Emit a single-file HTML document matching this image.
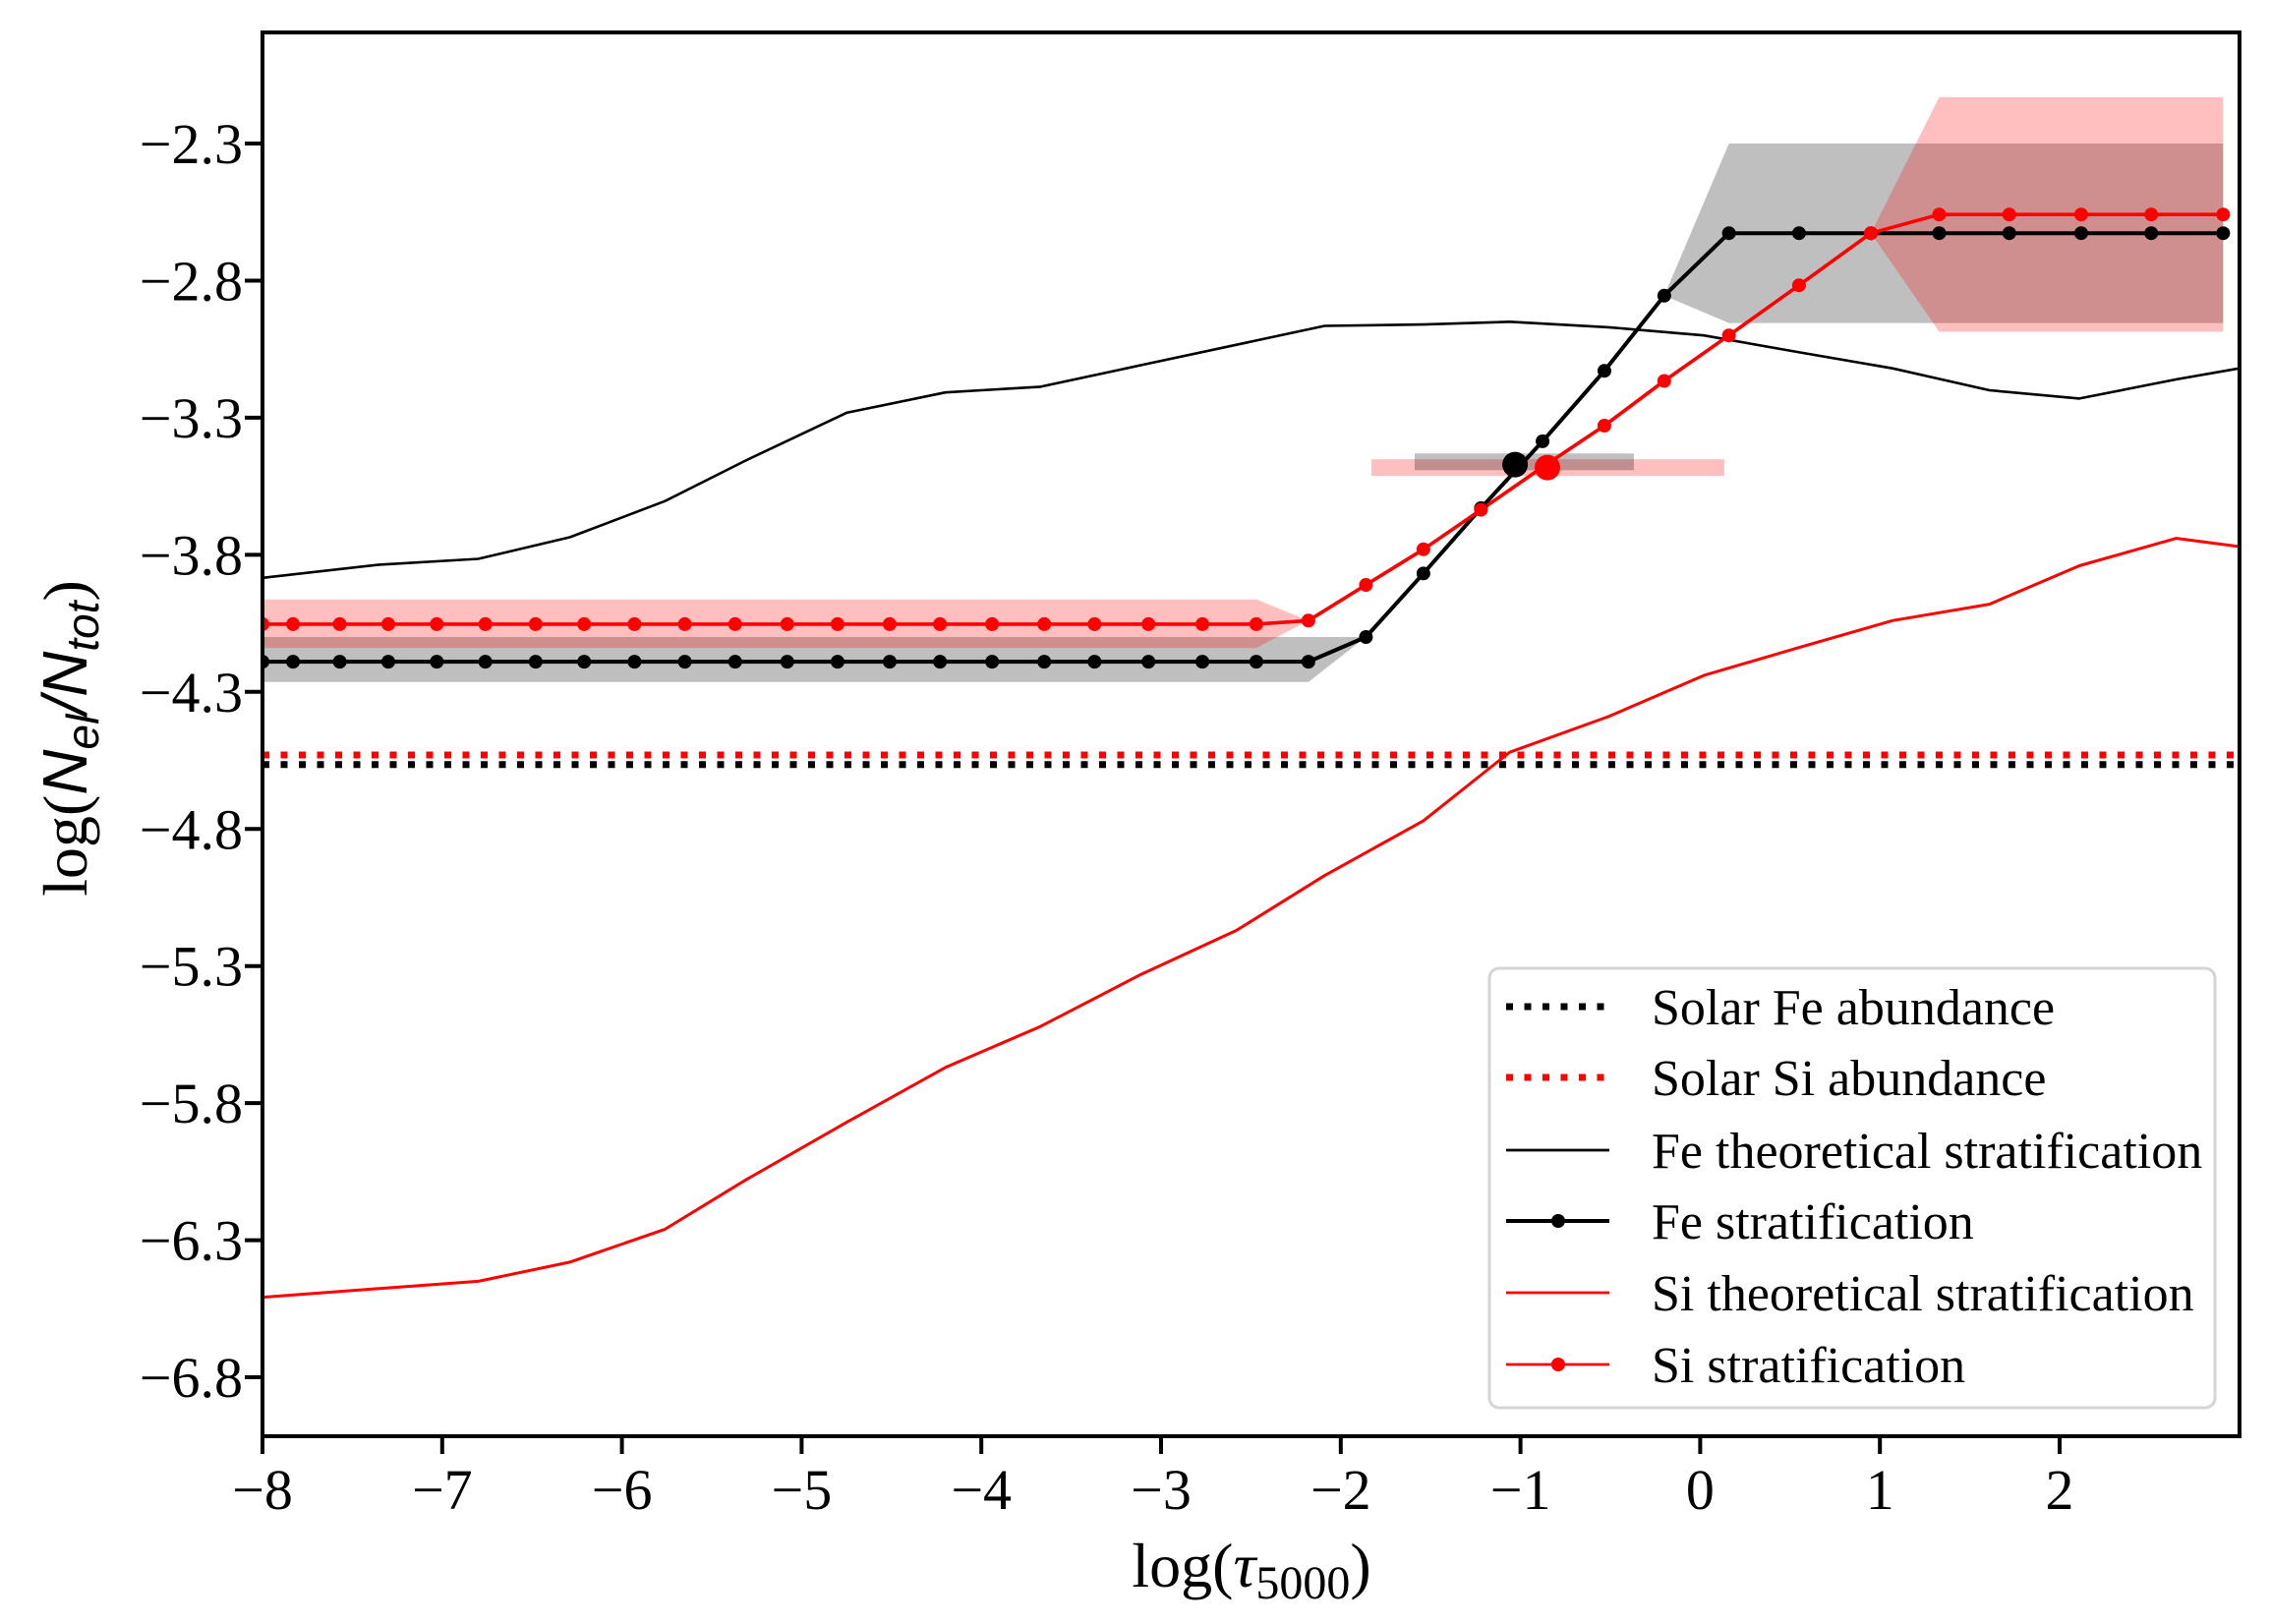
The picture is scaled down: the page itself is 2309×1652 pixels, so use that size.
<!DOCTYPE html>
<html><head><meta charset="utf-8"><style>
html,body{margin:0;padding:0;background:#fff}
svg{display:block;font-family:"Liberation Serif",serif}
</style></head><body>
<svg id="chart" width="2309" height="1652" viewBox="0 0 2309 1652" xmlns="http://www.w3.org/2000/svg">
<g id="plot"></g>
</svg>
<script>
const xTickVals=[-8,-7,-6,-5,-4,-3,-2,-1,0,1,2];
const yTickVals=[-2.3,-2.8,-3.3,-3.8,-4.3,-4.8,-5.3,-5.8,-6.3,-6.8];
const theoX=[-8,-7.35,-6.8,-6.29,-5.76,-5.31,-4.75,-4.2,-3.67,-3.11,-2.58,-2.09,-1.54,-1.06,-0.51,0.02,0.54,1.07,1.61,2.11,2.65,3.0];
const feTheo=[-3.884,-3.836,-3.815,-3.736,-3.604,-3.456,-3.282,-3.208,-3.187,-3.108,-3.034,-2.965,-2.96,-2.95,-2.97,-3.0,-3.06,-3.12,-3.2,-3.23,-3.16,-3.12];
const siTheo=[-6.508,-6.476,-6.45,-6.38,-6.26,-6.08,-5.87,-5.67,-5.52,-5.33,-5.17,-4.97,-4.77,-4.52,-4.39,-4.24,-4.14,-4.04,-3.98,-3.84,-3.74,-3.77];
const stratX=[-8,-7.83,-7.57,-7.30,-7.03,-6.76,-6.48,-6.21,-5.93,-5.65,-5.37,-5.08,-4.80,-4.51,-4.23,-3.94,-3.65,-3.37,-3.07,-2.77,-2.47,-2.18,-1.86,-1.54,-1.22,-0.877,-0.533,-0.20,0.16,0.55,0.95,1.33,1.72,2.12,2.51,2.91];
const feStrat=[-4.19,-4.19,-4.19,-4.19,-4.19,-4.19,-4.19,-4.19,-4.19,-4.19,-4.19,-4.19,-4.19,-4.19,-4.19,-4.19,-4.19,-4.19,-4.19,-4.19,-4.19,-4.19,-4.10,-3.868,-3.63,-3.386,-3.129,-2.855,-2.627,-2.627,-2.627,-2.627,-2.627,-2.627,-2.627,-2.627];
const feLow=[-4.264,-4.264,-4.264,-4.264,-4.264,-4.264,-4.264,-4.264,-4.264,-4.264,-4.264,-4.264,-4.264,-4.264,-4.264,-4.264,-4.264,-4.264,-4.264,-4.264,-4.264,-4.264,-4.10,-3.868,-3.63,-3.386,-3.129,-2.855,-2.955,-2.955,-2.955,-2.955,-2.955,-2.955,-2.955,-2.955];
const feHigh=[-4.10,-4.10,-4.10,-4.10,-4.10,-4.10,-4.10,-4.10,-4.10,-4.10,-4.10,-4.10,-4.10,-4.10,-4.10,-4.10,-4.10,-4.10,-4.10,-4.10,-4.10,-4.10,-4.10,-3.868,-3.63,-3.386,-3.129,-2.855,-2.3,-2.3,-2.3,-2.3,-2.3,-2.3,-2.3,-2.3];
const siStrat=[-4.053,-4.053,-4.053,-4.053,-4.053,-4.053,-4.053,-4.053,-4.053,-4.053,-4.053,-4.053,-4.053,-4.053,-4.053,-4.053,-4.053,-4.053,-4.053,-4.053,-4.053,-4.04,-3.91,-3.78,-3.636,-3.48,-3.329,-3.166,-3.0,-2.817,-2.627,-2.559,-2.559,-2.559,-2.559,-2.559];
const siLow=[-4.14,-4.14,-4.14,-4.14,-4.14,-4.14,-4.14,-4.14,-4.14,-4.14,-4.14,-4.14,-4.14,-4.14,-4.14,-4.14,-4.14,-4.14,-4.14,-4.14,-4.14,-4.04,-3.91,-3.78,-3.636,-3.48,-3.329,-3.166,-3.0,-2.817,-2.627,-2.986,-2.986,-2.986,-2.986,-2.986];
const siHigh=[-3.963,-3.963,-3.963,-3.963,-3.963,-3.963,-3.963,-3.963,-3.963,-3.963,-3.963,-3.963,-3.963,-3.963,-3.963,-3.963,-3.963,-3.963,-3.963,-3.963,-3.963,-4.04,-3.91,-3.78,-3.636,-3.48,-3.329,-3.166,-3.0,-2.817,-2.627,-2.131,-2.131,-2.131,-2.131,-2.131];
const solarFe=-4.565, solarSi=-4.53;
const feMean=[-1.03,-3.471], siMean=[-0.85,-3.482];
const feErrX=[-1.589,-0.369], siErrX=[-1.829,0.134];
const legendLabels=["Solar Fe abundance","Solar Si abundance","Fe theoretical stratification","Fe stratification","Si theoretical stratification","Si stratification"];

const L=267,R=2278,T=33,B=1461;
const X=v=>L+(v+8)*182.8;
const Y=v=>146+(-2.3-v)*278.9;
const NS="http://www.w3.org/2000/svg";
const svg=document.getElementById('chart');
const plot=document.getElementById('plot');
function mk(tag,attrs,parent){const e=document.createElementNS(NS,tag);for(const k in attrs)e.setAttribute(k,attrs[k]);(parent||plot).appendChild(e);return e;}
const pts=(xs,ys)=>xs.map((x,i)=>X(x).toFixed(1)+","+Y(ys[i]).toFixed(1)).join(" ");

const defs=mk('defs',{},svg);
const cp=mk('clipPath',{id:'clip'},defs);
mk('rect',{x:L,y:T,width:R-L,height:B-T},cp);
plot.setAttribute('clip-path','url(#clip)');

function band(lo,hi,color,name){
  const up=stratX.map((x,i)=>X(x)+","+Y(hi[i]));
  const dn=stratX.map((x,i)=>X(x)+","+Y(lo[i])).reverse();
  const p=mk('polygon',{points:up.concat(dn).join(" "),fill:color,'fill-opacity':0.25,stroke:'none'});
  
  
}
band(feLow,feHigh,'#000','fe-uncertainty-band');
band(siLow,siHigh,'#f00','si-uncertainty-band');

function errbar(xr,yc,color,name){
  const r=mk('rect',{x:X(xr[0]),y:Y(yc)-8.5,width:X(xr[1])-X(xr[0]),height:17,fill:color,'fill-opacity':0.25});
  
  
}
errbar(siErrX,siMean[1],'#f00','si-mean-errorbar');
errbar(feErrX,feMean[1]+0.01,'#000','fe-mean-errorbar');

function hline(v,color,name){
  const l=mk('line',{x1:L,x2:R,y1:Y(v),y2:Y(v),stroke:color,'stroke-width':7,'stroke-dasharray':'7,11.5'});
  
  
}
hline(solarFe,'#000','solar-fe-line');
hline(solarSi,'#f00','solar-si-line');

function line(xs,ys,color,w,name){
  const l=mk('polyline',{points:pts(xs,ys),fill:'none',stroke:color,'stroke-width':w,'stroke-linejoin':'round'});
  
  
}
line(theoX,feTheo,'#000',2.6,'fe-theoretical-line');
line(theoX,siTheo,'#f00',3,'si-theoretical-line');
line(stratX,feStrat,'#000',4,'fe-stratification-line');
line(stratX,siStrat,'#f00',3.6,'si-stratification-line');
function dots(ys,color,name){
  stratX.forEach((x,i)=>{
    const c=mk('circle',{cx:X(x),cy:Y(ys[i]),r:7,fill:color});
    
    
  });
}
dots(feStrat,'#000','fe-point');
dots(siStrat,'#f00','si-point');
let c=mk('circle',{cx:X(feMean[0]),cy:Y(feMean[1]),r:13,fill:'#000'});


c=mk('circle',{cx:X(siMean[0]),cy:Y(siMean[1]),r:13,fill:'#f00'});



const ax=mk('g',{},svg);


mk('rect',{x:L,y:T,width:R-L,height:B-T,fill:'none',stroke:'#000','stroke-width':4},ax);
xTickVals.forEach(v=>{
  const t=mk('line',{x1:X(v),x2:X(v),y1:B,y2:B+18,stroke:'#000','stroke-width':4},ax);
  
  
  const tx=mk('text',{x:X(v),y:1535,'font-size':58,'text-anchor':'middle'},ax);
  tx.textContent=(v<0?'\u2212':'')+Math.abs(v);
  
  
});
yTickVals.forEach(v=>{
  const t=mk('line',{x1:L-18,x2:L,y1:Y(v),y2:Y(v),stroke:'#000','stroke-width':4},ax);
  
  
  const tx=mk('text',{x:247,y:Y(v)+20,'font-size':58,'text-anchor':'end'},ax);
  tx.textContent='\u2212'+Math.abs(v).toFixed(1);
  
  
});

const lg=mk('g',{},svg);


mk('rect',{x:1515,y:985,width:738,height:447,rx:10,fill:'#fff','fill-opacity':0.8,stroke:'#d4d4d4','stroke-width':3},lg);
const ly=[1024,1096,1170,1242,1315,1388];
legendLabels.forEach((lab,i)=>{
  const col=(i===0||i===2||i===3)?'#000':'#f00';
  const attrs={x1:1532,x2:1637,y1:ly[i],y2:ly[i],stroke:col};
  if(i<2){attrs['stroke-width']=7;attrs['stroke-dasharray']='7,11.5';}
  else if(i===3){attrs['stroke-width']=4;}
  else attrs['stroke-width']=2.8;
  const l=mk('line',attrs,lg);
  
  
  if(i===3||i===5){mk('circle',{cx:1585,cy:ly[i],r:7,fill:col},lg);}
  const t=mk('text',{x:1680,y:ly[i]+18,'font-size':52},lg);
  t.textContent=lab;
  
  
});
</script>
<div style="position:absolute;left:0;top:0;width:0;height:0">
<svg width="2309" height="1652" style="position:absolute;left:0;top:0;pointer-events:none;font-family:'Liberation Serif',serif">
<text x="1273" y="1614" font-size="64" text-anchor="middle">log(<tspan font-style="italic">τ</tspan><tspan font-size="48" dy="12">5000</tspan><tspan dy="-12">)</tspan></text>
<text transform="translate(88,751) rotate(-90)" font-size="64" text-anchor="middle">log(<tspan font-style="italic" font-family="Liberation Sans, sans-serif">N</tspan><tspan font-style="italic" font-family="Liberation Sans, sans-serif" font-size="46" dy="12">el</tspan><tspan dy="-12" font-style="italic" font-family="Liberation Sans, sans-serif">/N</tspan><tspan font-style="italic" font-family="Liberation Sans, sans-serif" font-size="46" dy="12">tot</tspan><tspan dy="-12">)</tspan></text>
</svg>
</div>
</body></html>
